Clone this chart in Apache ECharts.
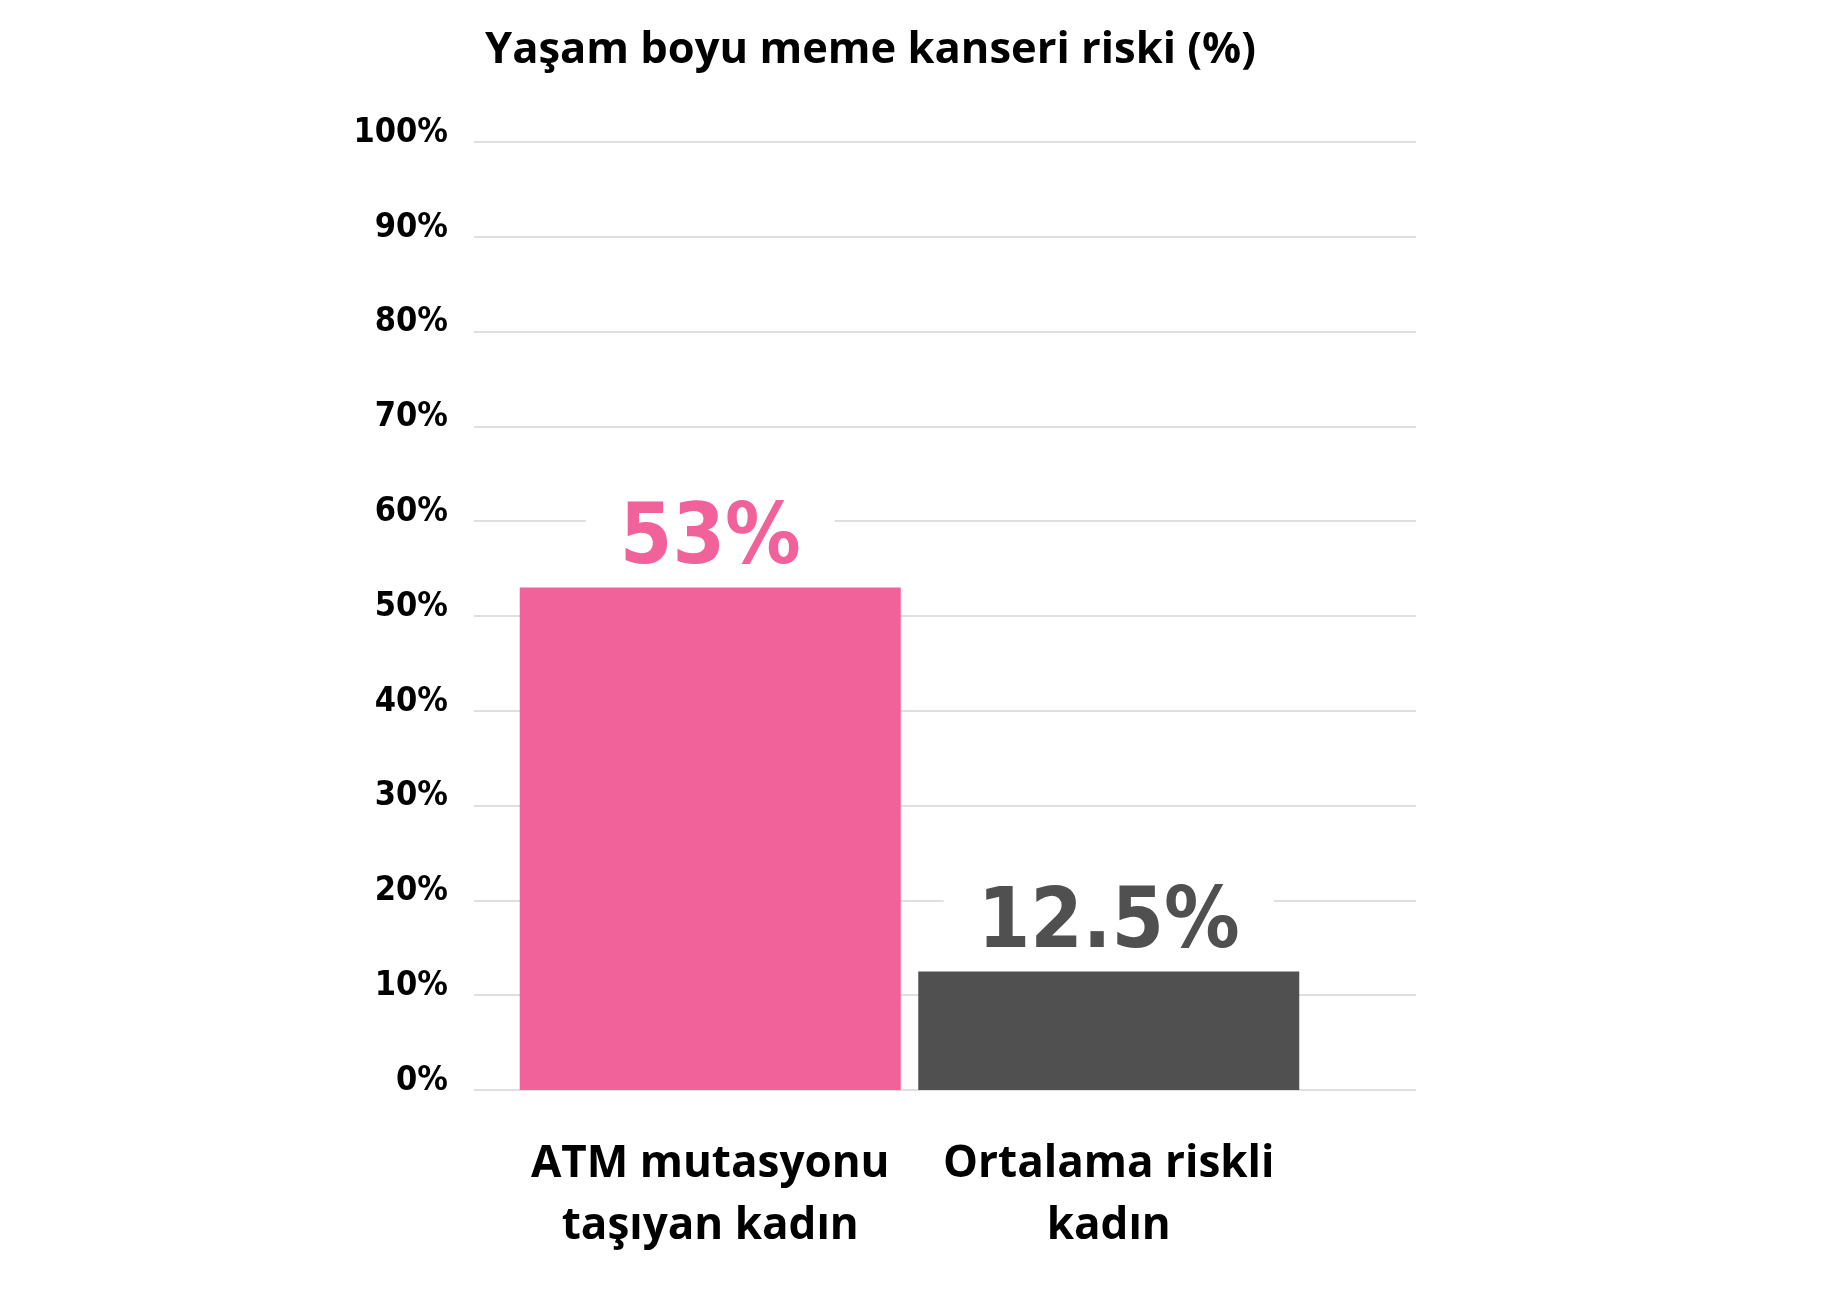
<!DOCTYPE html>
<html>
<head>
<meta charset="utf-8">
<script src="https://cdn.jsdelivr.net/npm/echarts@6/dist/echarts.min.js"></script>
<style>
  html, body { margin: 0; padding: 0; background: #fff; }
  #chart { width: 1848px; height: 1305px; }
</style>
</head>
<body>
<div id="chart"></div>
<script>
var categories = ['ATM mutasyonu\ntaşıyan kadın', 'Ortalama riskli\nkadın'];
var riskValues = [53, 12.5];
var yTicks = [0, 100, 10]; // min, max, interval

var barColors = ['#F06299', '#505050'];

var myChart = echarts.init(document.getElementById('chart'));

option = {
    backgroundColor: '#fff',
    animation: false,
    title: {
        text: 'Yaşam boyu meme kanseri riski (%)',
        left: 480,
        top: 24,
        textStyle: {
            fontFamily: 'Open Sans',
            fontWeight: 'bold',
            fontSize: 43.5,
            color: '#000'
        }
    },
    // grid 0 draws the gridlines, grid 1 holds the bars (offset like the original)
    grid: [
        { left: 474, width: 942, top: 142, height: 948 },
        { left: 511, width: 797, top: 142, height: 948 }
    ],
    xAxis: [
        {
            type: 'category',
            gridIndex: 0,
            data: categories,
            show: false
        },
        {
            type: 'category',
            gridIndex: 1,
            data: categories,
            axisLine: { show: false },
            axisTick: { show: false },
            axisLabel: {
                interval: 0,
                margin: 43,
                fontFamily: 'Open Sans',
                fontWeight: 'bold',
                fontSize: 44,
                lineHeight: 62,
                color: '#000'
            }
        }
    ],
    yAxis: [
        {
            type: 'value',
            gridIndex: 0,
            min: yTicks[0],
            max: yTicks[1],
            interval: yTicks[2],
            axisLine: { show: false },
            axisTick: { show: false },
            splitLine: { lineStyle: { color: '#d4d4d4', width: 1.5 } },
            axisLabel: {
                formatter: '{value}%',
                margin: 26,
                verticalAlign: 'bottom',
                lineHeight: 18,
                fontFamily: 'DejaVu Sans Condensed',
                fontWeight: 'bold',
                fontSize: 34,
                color: '#000'
            }
        },
        {
            type: 'value',
            gridIndex: 1,
            min: yTicks[0],
            max: yTicks[1],
            show: false
        }
    ],
    series: [
        {
            name: 'Risk',
            type: 'bar',
            xAxisIndex: 1,
            yAxisIndex: 1,
            barWidth: 381,
            data: riskValues.map(function (v, i) {
                return {
                    value: v,
                    itemStyle: { color: barColors[i] },
                    label: { color: barColors[i] }
                };
            }),
            label: {
                show: true,
                position: 'top',
                distance: 4,
                formatter: '{c}%',
                backgroundColor: '#fff',
                padding: [0, 34],
                fontFamily: 'DejaVu Sans Condensed',
                fontWeight: 'bold',
                fontSize: 84
            }
        }
    ]
};

if (option && typeof option === "object") {
    myChart.setOption(option, true);
}
</script>
</body>
</html>
